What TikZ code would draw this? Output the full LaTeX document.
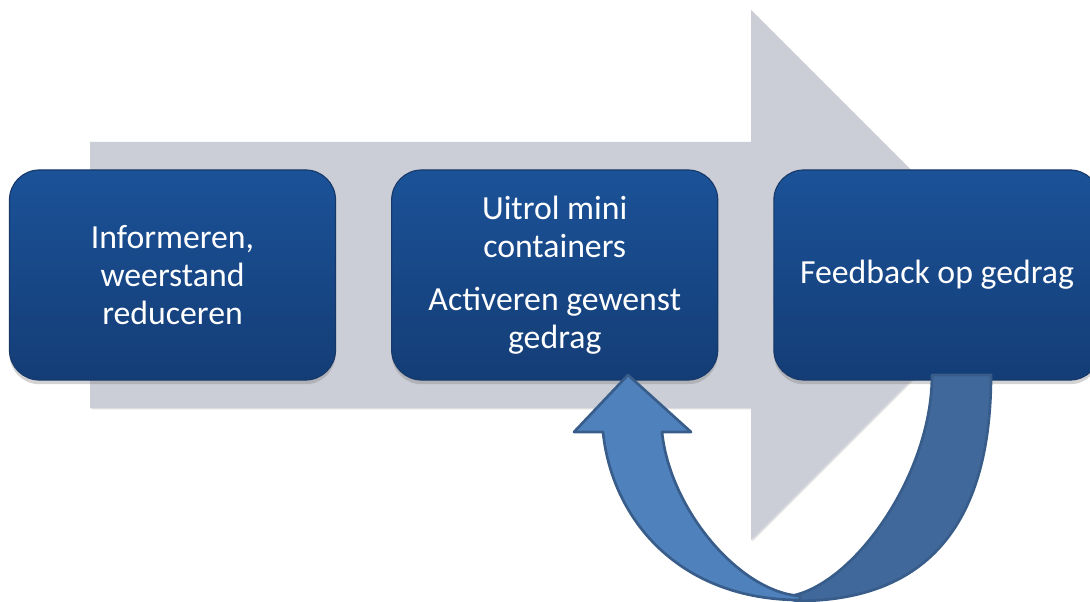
\documentclass[tikz,border=0pt]{standalone}
\usepackage{fontspec}
\setmainfont{Carlito}
\usepackage{tikz}
\usetikzlibrary{positioning, shadows}
\definecolor{Grey1}{HTML}{CBCED6}
\definecolor{Blue1}{HTML}{1B5298}
\definecolor{Blue2}{HTML}{143D76}
\definecolor{Blue3}{HTML}{17396A}
\definecolor{Blue4}{HTML}{4F81BD}
\definecolor{Blue5}{HTML}{41689A}
\definecolor{Blue6}{HTML}{385D8A}
\colorlet{ArrowGrey}{Grey1}
\colorlet{BoxTop}{Blue1}
\colorlet{BoxBottom}{Blue2}
\colorlet{BoxLine}{Blue3}
\colorlet{LoopFront}{Blue4}
\colorlet{LoopBack}{Blue5}
\colorlet{LoopLine}{Blue6}

\begin{document}
\begin{tikzpicture}[x = 0.025cm, y = -0.025cm]
    \useasboundingbox (0, 0) rectangle (1090, 602);

    % grey process arrow
    \fill[
        ArrowGrey,
        drop shadow = {shadow xshift = 1pt, shadow yshift = -1pt, opacity = 0.25}
    ] (90, 142) -- (751, 142) -- (751, 10) -- (1016, 275)
      -- (751, 540) -- (751, 408) -- (90, 408) -- cycle;

    \begin{scope}[
        every node/.style = {
            shape           = rectangle,
            rounded corners = 0.75cm,
            minimum width   = 8.15cm,
            minimum height  = 5.25cm,
            top color       = BoxTop,
            bottom color    = BoxBottom,
            draw            = BoxLine,
            line width      = 0.8pt,
            text            = white,
            align           = center,
            font            = \fontsize{24}{27}\selectfont,
            drop shadow     = {shadow xshift = 0pt, shadow yshift = -3pt, opacity = 0.35},
        }
    ]
        \node (inform)   at (172.5, 275) {Informeren,\\weerstand\\reduceren};
        \node (uitrol)   [right = 1.375cm of inform] {Uitrol mini\\containers\\[11pt]Activeren gewenst\\gedrag};
        \node (feedback) [right = 1.375cm of uitrol] {Feedback op gedrag};
    \end{scope}

    % loop back from feedback to step two
    \coordinate (tip)   at (628, 375);
    \coordinate (headL) at (574, 432);
    \coordinate (headR) at (691, 432);

    \begin{scope}[draw = LoopLine, line width = 1.9pt, line join = round]
        \filldraw[fill = LoopBack] (932, 375) -- (991, 375)
            .. controls (991, 530) and (922, 601) .. (797, 601)
            -- (780, 597)
            .. controls (845, 597) and (932, 480) .. (932, 375) -- cycle;
        \filldraw[fill = LoopFront] (headL) -- (tip) -- (headR) -- (662, 432)
            .. controls (670, 510) and (740, 592) .. (800, 596)
            -- (800, 600)
            .. controls (680, 600) and (612, 520) .. (603, 432) -- cycle;
    \end{scope}
\end{tikzpicture}
\end{document}
